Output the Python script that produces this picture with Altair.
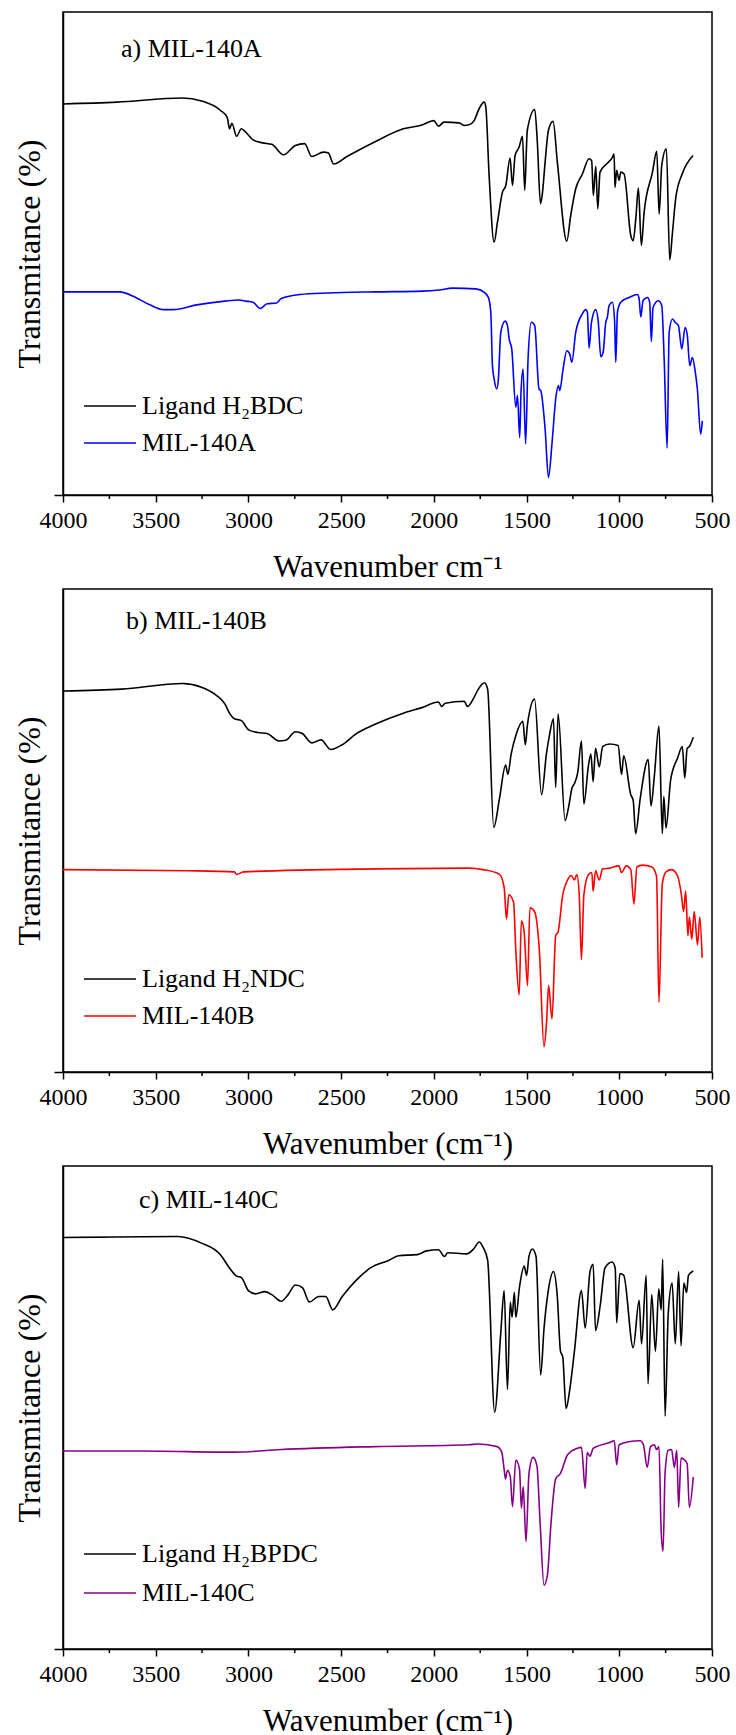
import altair as alt
import pandas as pd

FONT = "Liberation Serif"
W, H = 649, 483
YMAX = 1303

X_TICKS = [4000, 3500, 3000, 2500, 2000, 1500, 1000, 500]
X_MINOR = [3750, 3250, 2750, 2250, 1750, 1250, 750]

# (wavenumber cm-1, transmittance a.u.)
A_LIG = [(4000,1055),(3709,1060),(3355,1071),(3253,1063),(3152,1038),(3114,1018),(3102,988),(3089,1003),
         (3064,968),(3038,988),(3013,978),(2975,958),(2924,950),(2874,946),(2811,918),(2747,943),(2697,948),
         (2659,913),(2595,925),(2570,923),(2540,893),(2469,913),(2317,953),(2165,988),(2064,998),(2001,1010),
         (1975,995),(1945,1006),(1864,1004),(1837,997),(1810,999),(1783,1010),(1756,1042),(1729,1060),(1720,1047),
         (1702,862),(1675,682),(1657,736),(1630,817),(1612,835),(1589,909),(1576,835),(1562,916),(1540,939),
         (1522,968),(1510,822),(1496,984),(1456,1040),(1442,952),(1425,786),(1415,812),(1400,898),(1382,984),
         (1357,1008),(1334,898),(1283,685),(1262,754),(1235,826),(1199,866),(1163,907),(1149,902),(1140,808),
         (1127,887),(1116,772),(1104,871),(1073,891),(1037,911),(1028,920),(1023,830),(1014,876),(1001,849),
         (992,871),(974,866),(938,700),(925,686),(911,745),(897,828),(881,673),(866,763),(821,871),(798,927),
         (785,758),(771,889),(746,934),(728,634),(713,709),(695,803),(660,867),(602,916)]

A_MOF = [(4000,548),(3696,548),(3608,533),(3532,513),(3456,500),(3405,500),(3279,513),(3127,523),(3051,526),
         (3013,523),(2975,520),(2937,503),(2899,516),(2849,518),(2823,530),(2722,541),(2570,545),(2317,548),
         (2064,550),(1972,553),(1900,558),(1774,556),(1729,547),(1706,533),(1693,493),(1684,349),(1675,313),
         (1661,286),(1652,313),(1639,439),(1616,469),(1603,457),(1594,421),(1580,394),(1558,237),(1549,268),
         (1537,155),(1530,277),(1519,340),(1505,138),(1492,367),(1474,466),(1456,457),(1433,286),(1424,282),
         (1400,178),(1382,47),(1361,151),(1343,259),(1328,295),(1321,282),(1303,340),(1283,389),(1267,380),
         (1256,358),(1235,439),(1199,489),(1181,500),(1172,493),(1163,396),(1150,466),(1127,500),(1113,466),
         (1100,373),(1087,385),(1073,466),(1064,480),(1055,511),(1037,520),(1025,466),(1019,358),(1010,493),
         (992,520),(947,533),(902,541),(893,529),(884,480),(872,524),(848,533),(836,520),(827,414),(818,506),
         (789,524),(771,511),(758,367),(742,126),(731,439),(713,475),(699,466),(681,457),(663,394),(645,452),
         (633,430),(620,349),(606,371),(591,335),(579,286),(561,164),(552,200)]

B_LIG = [(4000,1028),(3684,1033),(3355,1048),(3253,1038),(3178,1018),(3127,993),(3102,968),(3076,953),
         (3038,948),(2999,923),(2950,916),(2899,913),(2836,893),(2798,895),(2747,918),(2709,913),(2659,888),
         (2608,896),(2557,870),(2494,883),(2418,913),(2317,938),(2165,968),(2064,983),(1975,998),(1958,986),
         (1938,995),(1836,1000),(1819,986),(1786,1008),(1760,1033),(1727,1050),(1710,1033),(1677,660),(1646,738),
         (1613,828),(1601,803),(1583,858),(1558,908),(1520,946),(1507,883),(1495,938),(1457,1006),(1419,748),
         (1393,858),(1376,910),(1355,953),(1343,768),(1330,966),(1292,678),(1274,713),(1254,768),(1242,778),
         (1224,808),(1204,893),(1191,723),(1166,828),(1153,858),(1141,783),(1128,873),(1108,823),(1090,878),
         (1052,885),(1006,881),(988,803),(976,853),(938,748),(925,733),(912,643),(887,738),(844,843),(829,718),
         (811,798),(786,933),(768,643),(760,743),(748,658),(723,788),(685,848),(660,878),(647,793),(634,873),
         (622,878),(601,903)]

B_MOF = [(4000,546),(3329,543),(3076,540),(3064,533),(3026,540),(2317,548),(1811,550),(1735,546),(1646,533),
         (1621,498),(1608,413),(1596,478),(1570,458),(1558,328),(1540,208),(1528,408),(1513,378),(1495,233),
         (1482,443),(1457,433),(1431,328),(1406,68),(1393,128),(1381,233),(1363,143),(1343,368),(1330,378),
         (1305,478),(1279,518),(1259,530),(1242,518),(1229,533),(1216,478),(1204,303),(1191,478),(1166,533),
         (1148,538),(1141,488),(1128,543),(1108,518),(1090,548),(1052,550),(1002,556),(988,538),(963,556),
         (938,546),(921,453),(905,553),(875,558),(824,553),(799,528),(786,188),(768,508),(748,540),(718,546),
         (685,528),(665,478),(653,433),(642,488),(630,368),(622,418),(609,358),(596,433),(578,343),(566,418),
         (553,308)]

C_LIG = [(4000,1110),(3380,1113),(3253,1095),(3152,1064),(3102,1028),(3064,1006),(3038,1002),(2999,966),
         (2962,958),(2912,964),(2874,956),(2823,938),(2786,956),(2747,982),(2709,975),(2671,936),(2621,951),
         (2583,951),(2545,915),(2494,951),(2418,995),(2342,1028),(2241,1049),(2190,1061),(2089,1064),(2039,1074),
         (1975,1077),(1943,1059),(1925,1069),(1824,1066),(1786,1079),(1755,1098),(1735,1084),(1710,1049),
         (1672,639),(1639,854),(1621,967),(1603,700),(1588,936),(1578,895),(1566,962),(1558,895),(1538,977),
         (1513,1033),(1500,1008),(1487,1059),(1469,1079),(1449,1059),(1424,739),(1406,864),(1386,956),(1355,1018),
         (1335,956),(1317,803),(1305,788),(1287,649),(1267,700),(1242,803),(1204,967),(1184,866),(1158,1018),
         (1141,1038),(1128,859),(1103,926),(1077,1028),(1039,1044),(1022,1028),(1014,880),(997,1013),(976,1008),
         (925,813),(893,941),(880,823),(855,1008),(845,715),(825,956),(805,803),(787,972),(774,915),(766,1051),
         (753,628),(736,905),(715,987),(698,823),(680,1018),(667,818),(652,987),(637,962),(627,1008),(601,1020)]

C_MOF = [(4000,534),(3582,534),(3076,531),(2823,538),(2317,546),(1811,551),(1760,553),(1659,546),(1634,531),
         (1621,485),(1614,459),(1603,482),(1588,466),(1576,384),(1558,510),(1538,485),(1528,380),(1518,438),
         (1503,290),(1487,474),(1465,517),(1444,494),(1427,341),(1406,172),(1388,198),(1368,341),(1343,459),
         (1317,474),(1279,524),(1229,541),(1204,544),(1184,433),(1173,530),(1158,520),(1141,541),(1052,557),
         (1027,562),(1014,497),(1001,551),(951,559),(887,562),(870,551),(849,490),(832,546),(811,551),(799,538),
         (786,546),(774,316),(764,264),(753,475),(736,536),(718,538),(703,490),(690,536),(680,382),(667,515),
         (647,510),(634,500),(622,382),(601,464)]

PANELS = [
    dict(lig=A_LIG, mof=A_MOF, names=("Ligand H₂BDC", "MIL-140A"), color="#0000ff",
         tag="a) MIL-140A", xtitle="Wavenumber cm⁻¹"),
    dict(lig=B_LIG, mof=B_MOF, names=("Ligand H₂NDC", "MIL-140B"), color="#ff0000",
         tag="b) MIL-140B", xtitle="Wavenumber (cm⁻¹)"),
    dict(lig=C_LIG, mof=C_MOF, names=("Ligand H₂BPDC", "MIL-140C"), color="#880088",
         tag="c) MIL-140C", xtitle="Wavenumber (cm⁻¹)"),
]
# layout (pixels inside each plot area)
TAG_POS = [(58, 45), (63, 40), (76, 42)]
LEG_Y = [(394, 431), (390, 427), (388, 427)]


def one(x):
    return pd.DataFrame({"k": [x]})


def panel(p, tag_pos, leg_y):
    rows = [(w, t, p["names"][0]) for w, t in p["lig"]] + [(w, t, p["names"][1]) for w, t in p["mof"]]
    df = pd.DataFrame(rows, columns=["wn", "t", "series"])
    xs = alt.Scale(domain=[500, 4000], reverse=True, nice=False, zero=False)
    ys = alt.Scale(domain=[0, YMAX], nice=False, zero=False)
    xaxis = alt.Axis(values=X_TICKS, format="d", tickSize=7, labelPadding=6, labelFlush=False,
                     title=p["xtitle"], titleY=81, titleBaseline="alphabetic")
    lines = alt.Chart(df).mark_line(strokeWidth=1.6, interpolate="monotone").encode(
        x=alt.X("wn:Q", scale=xs, axis=xaxis),
        y=alt.Y("t:Q", scale=ys,
                axis=alt.Axis(values=[0], labels=False, tickSize=9, title="Transmitance (%)",
                              titleX=-24, titleY=H / 2, titleBaseline="alphabetic", titleAngle=270,
                              titleFontSize=32)),
        color=alt.Color("series:N", scale=alt.Scale(domain=list(p["names"]), range=["black", p["color"]]),
                        legend=None),
        detail="series:N",
    )
    minor = alt.Chart(pd.DataFrame({"wn": X_MINOR})).mark_rule(color="black", strokeWidth=1.5).encode(
        x=alt.X("wn:Q", scale=xs, axis=xaxis), y=alt.value(H), y2=alt.value(H + 4))
    layers = [lines, minor]
    for name, col, ly in zip(p["names"], ["black", p["color"]], leg_y):
        layers.append(alt.Chart(one(0)).mark_rule(color=col, strokeWidth=1.6).encode(
            x=alt.value(21), x2=alt.value(73), y=alt.value(ly)))
        layers.append(alt.Chart(one(0)).mark_text(text=name, align="left", baseline="middle", font=FONT,
                                                  fontSize=26, color="black").encode(
            x=alt.value(79), y=alt.value(ly)))
    layers.append(alt.Chart(one(0)).mark_text(text=p["tag"], align="left", baseline="alphabetic", font=FONT,
                                              fontSize=26, color="black").encode(
        x=alt.value(tag_pos[0]), y=alt.value(tag_pos[1])))
    return alt.layer(*layers).properties(width=W, height=H)


charts = [panel(p, tp, ly) for p, tp, ly in zip(PANELS, TAG_POS, LEG_Y)]

chart = alt.vconcat(*charts, spacing=5).resolve_scale(color="independent").properties(
    padding={"left": 12, "top": 11, "right": 5, "bottom": 0}, background="white"
).configure_view(stroke="black", strokeWidth=1.5).configure_axis(
    domainColor="black", domainWidth=1.5, tickColor="black", tickWidth=1.5,
    labelFont=FONT, labelFontSize=24, labelColor="black",
    titleFont=FONT, titleFontSize=31, titleFontWeight="normal", titleColor="black", grid=False)

chart.save("out.html", embed_options={"renderer": "svg", "actions": False})
